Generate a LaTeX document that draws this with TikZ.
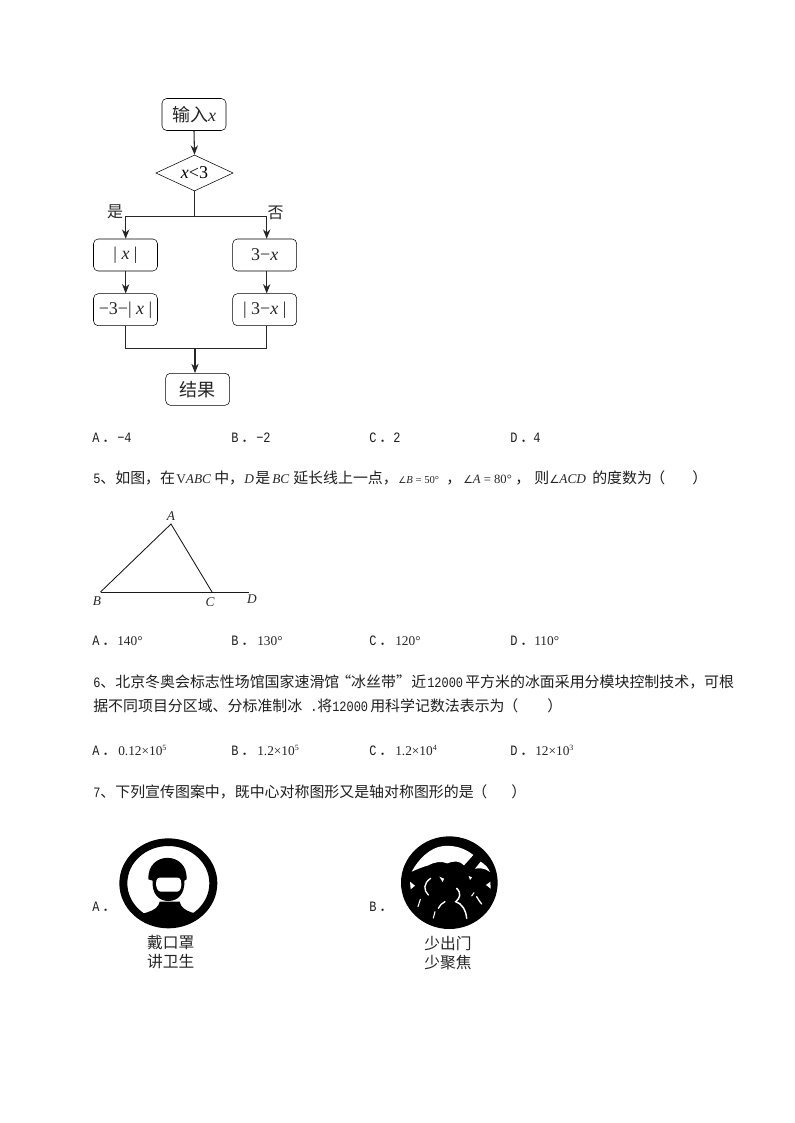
\documentclass[tikz,border=0pt]{standalone}
\usepackage{fontspec}
\usepackage{graphicx}
\usetikzlibrary{shapes.geometric,arrows.meta}
\setmainfont{Noto Sans CJK SC}
\newfontfamily\mon[Scale=0.8]{Liberation Mono}
\newfontfamily\lse{Liberation Serif}
\newfontfamily\djv[Scale=0.85]{DejaVu Sans}
\newcommand{\iv}[1]{{\lse\itshape #1}}
\newcommand{\rv}[1]{{\lse #1}}
\newcommand{\mn}[1]{\scalebox{1}[1.2]{\mon #1}}
\newcommand{\opt}[1]{\mn{#1}\hspace{2pt}．}
\newcommand{\angsym}{{\djv ∠}}
\newcommand{\supr}[1]{\raisebox{0.36em}{\fontsize{6}{7}\selectfont\lse #1}}
\tikzset{
  cjk/.style={anchor=base west,inner sep=0pt,font=\fontsize{11.2}{13}\selectfont,text=black!88},
  smalltext/.style={anchor=base west,inner sep=0pt,font=\fontsize{10}{12}\selectfont,text=black!85},
  flowbox/.style={draw,rounded corners=3.5pt,minimum width=48pt,minimum height=24pt,inner sep=0pt,font=\fontsize{13.5}{15}\selectfont,text=black!85},
  flowdia/.style={draw,diamond,shape aspect=2.15,minimum width=58pt,minimum height=27pt,inner sep=0pt,font=\fontsize{13.5}{15}\selectfont},
  flabel/.style={inner sep=0pt,font=\fontsize{12}{14}\selectfont,text=black!85},
  flowline/.style={line width=0.8pt,draw=black!85},
  flowa/.style={flowline,-{Stealth[length=7pt,width=5.5pt]}},
  triline/.style={line width=0.65pt,draw=black!90},
  captext/.style={inner sep=0pt,font=\fontsize{11.8}{13}\selectfont,text=black!85},
  ptlabel/.style={inner sep=0pt,font=\fontsize{10}{12}\selectfont\lse\itshape,text=black!85}
}
\begin{document}
\begin{tikzpicture}[x=0.75pt,y=-0.75pt]
\useasboundingbox (0,0) rectangle (794,1123);
\fill[white] (0,0) rectangle (794,1123);
% flowchart
\node[flowbox] (inp) at (194,114.5) {输入\iv{x}};
\node[flowdia] (dec) at (194.5,173) {\iv{x}\rv{<3}};
\node[flowbox] (abs) at (125.5,255) {\rv{| }\iv{x}\rv{ |}};
\node[flowbox] (tmx) at (264.7,255) {\rv{3−}\iv{x}};
\node[flowbox] (mab) at (125.5,309.7) {\rv{−3−| }\iv{x}\rv{ |}};
\node[flowbox] (atm) at (264.7,309.7) {\rv{| 3−}\iv{x}\rv{ |}};
\node[flowbox] (res) at (197.7,389.3) {结果};
\node[flabel] (yes) at (115,211.7) {是};
\node[flabel] (no) at (275.7,213) {否};
\coordinate (fork) at (194.5,216.7);
\coordinate (forkl) at (125.7,216.7);
\coordinate (forkr) at (266.7,216.7);
\coordinate (joinl) at (125.7,348.7);
\coordinate (joinr) at (266.7,348.7);
\coordinate (joinm) at (195,348.7);
\draw[flowa] (inp.south) -- (dec.north);
\draw[flowline] (dec.south) -- (fork);
\draw[flowa] (fork) -- (forkl) -- (forkl |- abs.north);
\draw[flowa] (fork) -- (forkr) -- (forkr |- tmx.north);
\draw[flowa] (forkl |- abs.south) -- (forkl |- mab.north);
\draw[flowa] (forkr |- tmx.south) -- (forkr |- atm.north);
\draw[flowline] (forkl |- mab.south) -- (joinl) -- (joinr) -- (forkr |- atm.south);
\draw[flowa] (joinm) -- (joinm |- res.north);
% options row 1
\node[cjk] (a4) at (92,442) {\opt{A}};
\node[cjk] (a4v) at (117,442) {\mn{−4}};
\node[cjk] (b4) at (231,442) {\opt{B}};
\node[cjk] (b4v) at (256,442) {\mn{−2}};
\node[cjk] (c4) at (369,442) {\opt{C}};
\node[cjk] (c4v) at (393,442) {\mn{2}};
\node[cjk] (d4) at (510,442) {\opt{D}};
\node[cjk] (d4v) at (533,442) {\mn{4}};
% question 5
\node[cjk] (q5a) at (93,483) {\mn{5}、如图，在};
\node[smalltext] (q5b) at (176,483) {\rv{V}\iv{ABC}};
\node[cjk] (q5c) at (214,483) {中，};
\node[smalltext] (q5d) at (244,483) {\iv{D}};
\node[cjk] (q5e) at (255,483) {是};
\node[smalltext] (q5f) at (272,483) {\iv{BC}};
\node[cjk] (q5g) at (293,483) {延长线上一点，};
\node[smalltext] (q5h) at (398,483) {\fontsize{8}{10}\selectfont\angsym\iv{B}\rv{ = 50°}};
\node[cjk] (q5i) at (446,483) {，};
\node[smalltext] (q5j) at (463,483) {\fontsize{9.5}{10}\selectfont\angsym\iv{A}\rv{ = 80°}};
\node[cjk] (q5k) at (515,483) {，};
\node[cjk] (q5l) at (534,483) {则};
\node[smalltext] (q5m) at (549,483) {\angsym\iv{ACD}};
\node[cjk] (q5n) at (592,483) {的度数为};
\node[cjk] (q5o) at (650,483) {（};
\node[cjk] (q5p) at (692,483) {）};
% triangle
\coordinate (tA) at (171,524);
\coordinate (tB) at (100.5,592);
\coordinate (tC) at (212,592);
\coordinate (tD) at (249,592);
\draw[triline] (tB) -- (tA) -- (tC);
\draw[triline] (tB) -- (tD);
\node[ptlabel] (lA) at (171,516.5) {A};
\node[ptlabel] (lB) at (97,601.5) {B};
\node[ptlabel] (lC) at (210,602.5) {C};
\node[ptlabel] (lD) at (252,599.5) {D};
% options row 2
\node[cjk] (a5) at (92,645.5) {\opt{A}};
\node[smalltext] (a5v) at (117,645.5) {\rv{140°}};
\node[cjk] (b5) at (231,645.5) {\opt{B}};
\node[smalltext] (b5v) at (257,645.5) {\rv{130°}};
\node[cjk] (c5) at (369,645.5) {\opt{C}};
\node[smalltext] (c5v) at (395,645.5) {\rv{120°}};
\node[cjk] (d5) at (510,645.5) {\opt{D}};
\node[smalltext] (d5v) at (534,645.5) {\rv{110°}};
% question 6
\node[cjk] (q6a) at (93,687) {\mn{6}、北京冬奥会标志性场馆国家速滑馆};
\node[cjk] (q6b) at (336,687) {“冰丝带”};
\node[cjk] (q6c) at (411,687) {近};
\node[cjk] (q6d) at (427,687) {\mn{12000}};
\node[cjk] (q6e) at (465,687) {平方米的冰面采用分模块控制技术，可根};
\node[cjk] (q6f) at (93,711) {据不同项目分区域、分标准制冰};
\node[cjk] (q6g) at (310,711) {\mn{.}};
\node[cjk] (q6h) at (317,711) {将};
\node[cjk] (q6i) at (332,711) {\mn{12000}};
\node[cjk] (q6j) at (370,711) {用科学记数法表示为};
\node[cjk] (q6k) at (503,711) {（};
\node[cjk] (q6l) at (547,711) {）};
% options row 3
\node[cjk] (a6) at (92,755) {\opt{A}};
\node[smalltext] (a6v) at (118,755) {\rv{0.12×10}\supr{5}};
\node[cjk] (b6) at (231,755) {\opt{B}};
\node[smalltext] (b6v) at (257,755) {\rv{1.2×10}\supr{5}};
\node[cjk] (c6) at (369,755) {\opt{C}};
\node[smalltext] (c6v) at (395,755) {\rv{1.2×10}\supr{4}};
\node[cjk] (d6) at (510,755) {\opt{D}};
\node[smalltext] (d6v) at (535,755) {\rv{12×10}\supr{3}};
% question 7
\node[cjk] (q7a) at (93,797) {\mn{7}、下列宣传图案中，既中心对称图形又是轴对称图形的是};
\node[cjk] (q7b) at (472,797) {（};
\node[cjk] (q7c) at (511,797) {）};
% icon A
\node[cjk] (ia) at (92,911) {\opt{A}};
\begin{scope}[shift={(85,830)},x=0.25pt,y=-0.25pt]
  \fill[black,even odd rule] (250,160) ellipse [x radius=147,y radius=135] (250,160) ellipse [x radius=123,y radius=112];
  \begin{scope}
    \clip (250,160) ellipse [x radius=130,y radius=118];
    \fill[black] (110,265) .. controls (170,250) and (218,248) .. (224,215) -- (284,215) .. controls (290,248) and (335,250) .. (390,265) -- (390,300) -- (110,300) -- cycle;
  \end{scope}
  \fill[black] (190,148) .. controls (186,62) and (309,62) .. (305,148) -- (298,152) .. controls (300,190) and (280,213) .. (250,213) .. controls (220,213) and (200,190) .. (203,152) -- cycle;
  \fill[white,rounded corners=2pt] (216,143) -- (286,143) -- (290,165) -- (284,185) -- (220,185) -- (212,165) -- cycle;
\end{scope}
\node[captext] (ca1) at (170.7,942.7) {戴口罩};
\node[captext] (ca2) at (170.7,961.7) {讲卫生};
% icon B
\node[cjk] (ib) at (369,911) {\opt{B}};
\begin{scope}[shift={(360,830)},x=0.25pt,y=-0.25pt]
  \fill[black] (268,158) ellipse [x radius=145,y radius=139];
  \fill[white] (155,125) .. controls (175,88) and (210,52) .. (250,48) .. controls (285,45) and (315,55) .. (340,75) -- (312,106) .. controls (300,92) and (280,92) .. (262,100) .. controls (245,92) and (220,97) .. (205,106) .. controls (190,110) and (170,118) .. (155,125) -- cycle;
  \fill[white] (345,116) -- (362,95) .. controls (375,103) and (385,113) .. (390,126) .. controls (375,115) and (360,113) .. (345,116) -- cycle;
  \fill[white] (150,155) -- (165,167) -- (152,178) -- cycle;
  \fill[white] (391,155) -- (378,165) -- (392,176) -- cycle;
  \fill[white] (238,140) -- (252,146) -- (248,156) -- cycle;
  \fill[white] (326,138) -- (336,142) -- (330,150) -- cycle;
  \draw[white,line width=1pt,line cap=round] (212,145) .. controls (190,160) and (190,180) .. (205,195);
  \draw[white,line width=1.1pt,line cap=round] (290,175) .. controls (305,190) and (300,205) .. (287,215) .. controls (305,220) and (318,240) .. (320,265);
  \draw[white,line width=0.8pt,line cap=round] (342,188) -- (335,198);
  \draw[white,line width=1pt,line cap=round] (350,200) .. controls (355,210) and (360,215) .. (365,222);
  \draw[white,line width=0.8pt,line cap=round] (181,208) -- (174,230);
  \draw[white,line width=1pt,line cap=round] (255,215) .. controls (245,220) and (240,225) .. (235,235);
  \draw[white,line width=0.8pt,line cap=round] (225,245) -- (220,264);
\end{scope}
\node[captext] (cb1) at (448,944) {少出门};
\node[captext] (cb2) at (448,963) {少聚焦};
\end{tikzpicture}
\end{document}
